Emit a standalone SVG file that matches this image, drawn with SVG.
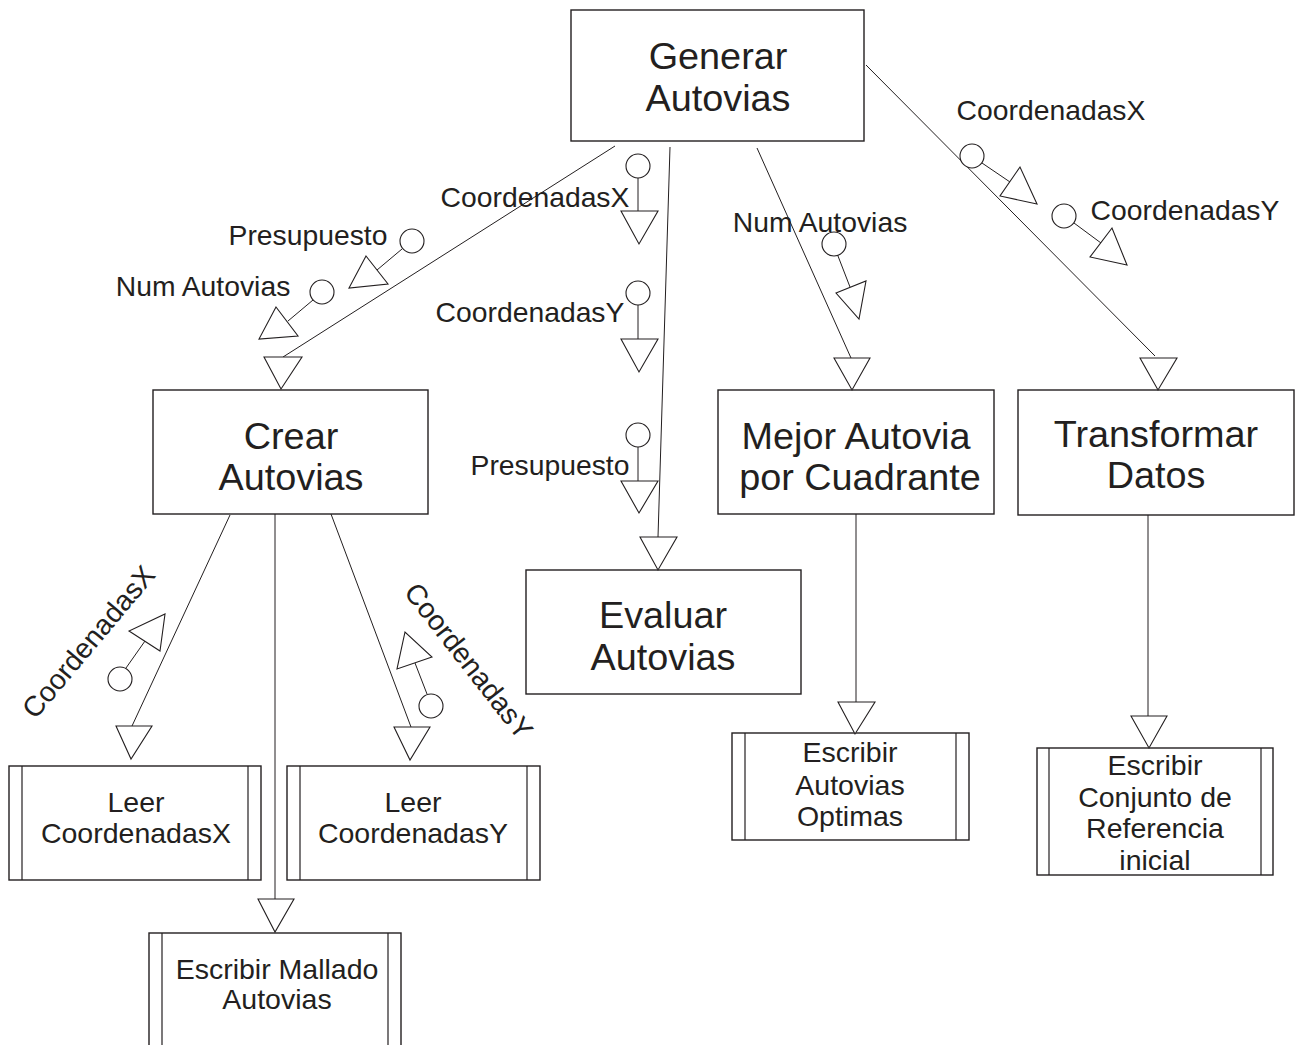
<svg xmlns="http://www.w3.org/2000/svg" width="1300" height="1045" viewBox="0 0 1300 1045">
  <style>
    .box { fill: #ffffff; stroke: #231f20; stroke-width: 1.4; }
    .bar { stroke: #231f20; stroke-width: 1.2; fill: none; }
    .flow { stroke: #231f20; stroke-width: 1; fill: none; }
    .head { fill: #ffffff; stroke: #231f20; stroke-width: 1.1; }
    .dot { fill: #ffffff; stroke: #231f20; stroke-width: 1.1; }
    .big { font-family: "Liberation Sans", Arial, sans-serif; font-size: 37.8px; fill: #231f20; text-anchor: middle; }
    .mid { font-family: "Liberation Sans", Arial, sans-serif; font-size: 28.5px; fill: #231f20; text-anchor: middle; }
    .lbl { font-family: "Liberation Sans", Arial, sans-serif; font-size: 28.3px; fill: #231f20; text-anchor: middle; }
  </style>

  <rect width="1300" height="1045" fill="#ffffff"/>

  <!-- Modules -->
  <g id="generar-autovias">
    <rect class="box" x="571" y="10" width="293" height="131"/>
    <text class="big" x="718" y="69">Generar</text>
    <text class="big" x="718" y="111">Autovias</text>
  </g>

  <g id="crear-autovias">
    <rect class="box" x="153" y="390" width="275" height="124"/>
    <text class="big" x="291" y="449">Crear</text>
    <text class="big" x="291" y="490">Autovias</text>
  </g>

  <g id="evaluar-autovias">
    <rect class="box" x="526" y="570" width="275" height="124"/>
    <text class="big" x="663" y="628">Evaluar</text>
    <text class="big" x="663" y="670">Autovias</text>
  </g>

  <g id="mejor-autovia">
    <rect class="box" x="718" y="390" width="276" height="124"/>
    <text class="big" x="856" y="449">Mejor Autovia</text>
    <text class="big" x="860" y="490">por Cuadrante</text>
  </g>

  <g id="transformar-datos">
    <rect class="box" x="1018" y="390" width="276" height="125"/>
    <text class="big" x="1156" y="447">Transformar</text>
    <text class="big" x="1156" y="488">Datos</text>
  </g>

  <!-- Predefined (library) modules -->
  <g id="leer-coordenadas-x">
    <rect class="box" x="9" y="766" width="252" height="114"/>
    <line class="bar" x1="22" y1="766" x2="22" y2="880"/>
    <line class="bar" x1="248" y1="766" x2="248" y2="880"/>
    <text class="mid" x="136" y="812">Leer</text>
    <text class="mid" x="136" y="843">CoordenadasX</text>
  </g>

  <g id="leer-coordenadas-y">
    <rect class="box" x="287" y="766" width="253" height="114"/>
    <line class="bar" x1="300" y1="766" x2="300" y2="880"/>
    <line class="bar" x1="527" y1="766" x2="527" y2="880"/>
    <text class="mid" x="413" y="812">Leer</text>
    <text class="mid" x="413" y="843">CoordenadasY</text>
  </g>

  <g id="escribir-mallado">
    <rect class="box" x="149" y="933" width="252" height="130"/>
    <line class="bar" x1="162" y1="933" x2="162" y2="1045"/>
    <line class="bar" x1="388" y1="933" x2="388" y2="1045"/>
    <text class="mid" x="277" y="979">Escribir Mallado</text>
    <text class="mid" x="277" y="1009">Autovias</text>
  </g>

  <g id="escribir-autovias-optimas">
    <rect class="box" x="732" y="733" width="237" height="107"/>
    <line class="bar" x1="745" y1="733" x2="745" y2="840"/>
    <line class="bar" x1="956" y1="733" x2="956" y2="840"/>
    <text class="mid" x="850" y="762">Escribir</text>
    <text class="mid" x="850" y="795">Autovias</text>
    <text class="mid" x="850" y="826">Optimas</text>
  </g>

  <g id="escribir-conjunto">
    <rect class="box" x="1037" y="748" width="236" height="127"/>
    <line class="bar" x1="1049" y1="748" x2="1049" y2="875"/>
    <line class="bar" x1="1261" y1="748" x2="1261" y2="875"/>
    <text class="mid" x="1155" y="775">Escribir</text>
    <text class="mid" x="1155" y="807">Conjunto de</text>
    <text class="mid" x="1155" y="838">Referencia</text>
    <text class="mid" x="1155" y="870">inicial</text>
  </g>

  <!-- Calls between modules, with their data couples -->
  <g id="connectors">
    <!-- Generar -> Crear -->
    <line class="flow" x1="615" y1="146" x2="283" y2="357"/>
    <polygon class="head" points="264,357 302,357 281,389"/>
    <text class="lbl" x="308" y="245">Presupuesto</text>
    <circle class="dot" cx="412" cy="241" r="12"/>
    <line class="flow" x1="402" y1="249" x2="377" y2="270"/>
    <polygon class="head" points="366,256 388,284 349,288"/>
    <text class="lbl" x="203" y="296">Num Autovias</text>
    <circle class="dot" cx="322" cy="292" r="12"/>
    <line class="flow" x1="313" y1="300" x2="288" y2="321"/>
    <polygon class="head" points="276,307 298,336 259,339"/>

    <!-- Generar -> Evaluar -->
    <line class="flow" x1="670" y1="147" x2="658" y2="537"/>
    <polygon class="head" points="640,537 677,537 658,570"/>
    <text class="lbl" x="535" y="207">CoordenadasX</text>
    <circle class="dot" cx="638" cy="166" r="12"/>
    <line class="flow" x1="638" y1="178" x2="638" y2="211"/>
    <polygon class="head" points="621,211 658,211 639,244"/>
    <text class="lbl" x="530" y="322">CoordenadasY</text>
    <circle class="dot" cx="638" cy="293" r="12"/>
    <line class="flow" x1="638" y1="305" x2="638" y2="339"/>
    <polygon class="head" points="621,339 658,339 639,372"/>
    <text class="lbl" x="550" y="475">Presupuesto</text>
    <circle class="dot" cx="638" cy="435" r="12"/>
    <line class="flow" x1="638" y1="447" x2="638" y2="481"/>
    <polygon class="head" points="621,481 658,481 639,513"/>

    <!-- Generar -> Mejor Autovia -->
    <line class="flow" x1="757" y1="148" x2="851" y2="358"/>
    <polygon class="head" points="834,358 870,358 852,390"/>
    <text class="lbl" x="820" y="232">Num Autovias</text>
    <circle class="dot" cx="834" cy="244" r="12"/>
    <line class="flow" x1="838" y1="256" x2="850" y2="287"/>
    <polygon class="head" points="836,293 866,281 859,319"/>

    <!-- Generar -> Transformar -->
    <line class="flow" x1="866" y1="65" x2="1155" y2="356"/>
    <polygon class="head" points="1140,358 1177,358 1158,390"/>
    <text class="lbl" x="1051" y="120">CoordenadasX</text>
    <circle class="dot" cx="972" cy="156" r="12"/>
    <line class="flow" x1="982" y1="163" x2="1010" y2="182"/>
    <polygon class="head" points="1020,167 1000,196 1037,204"/>
    <text class="lbl" x="1185" y="220">CoordenadasY</text>
    <circle class="dot" cx="1064" cy="216" r="12"/>
    <line class="flow" x1="1074" y1="223" x2="1101" y2="243"/>
    <polygon class="head" points="1112,228 1090,257 1127,265"/>

    <!-- Crear -> Leer CoordenadasX -->
    <line class="flow" x1="230" y1="515" x2="132" y2="726"/>
    <polygon class="head" points="116,726 152,726 131,759"/>
    <circle class="dot" cx="120" cy="679" r="12"/>
    <line class="flow" x1="126" y1="668" x2="145" y2="641"/>
    <polygon class="head" points="129,631 160,651 165,614"/>
    <text class="lbl" transform="translate(96,648) rotate(-50)">CoordenadasX</text>

    <!-- Crear -> Escribir Mallado -->
    <line class="flow" x1="275" y1="514" x2="275" y2="899"/>
    <polygon class="head" points="258,899 294,899 275,932"/>

    <!-- Crear -> Leer CoordenadasY -->
    <line class="flow" x1="331" y1="514" x2="411" y2="727"/>
    <polygon class="head" points="394,727 430,727 410,760"/>
    <circle class="dot" cx="431" cy="706" r="12"/>
    <line class="flow" x1="427" y1="694" x2="415" y2="663"/>
    <polygon class="head" points="432,657 397,669 405,632"/>
    <text class="lbl" transform="translate(461,667) rotate(52)">CoordenadasY</text>

    <!-- Mejor Autovia -> Escribir Autovias Optimas -->
    <line class="flow" x1="856" y1="514" x2="856" y2="702"/>
    <polygon class="head" points="838,702 875,702 855,734"/>

    <!-- Transformar -> Escribir Conjunto -->
    <line class="flow" x1="1148" y1="515" x2="1148" y2="716"/>
    <polygon class="head" points="1131,716 1167,716 1149,748"/>
  </g>
</svg>
